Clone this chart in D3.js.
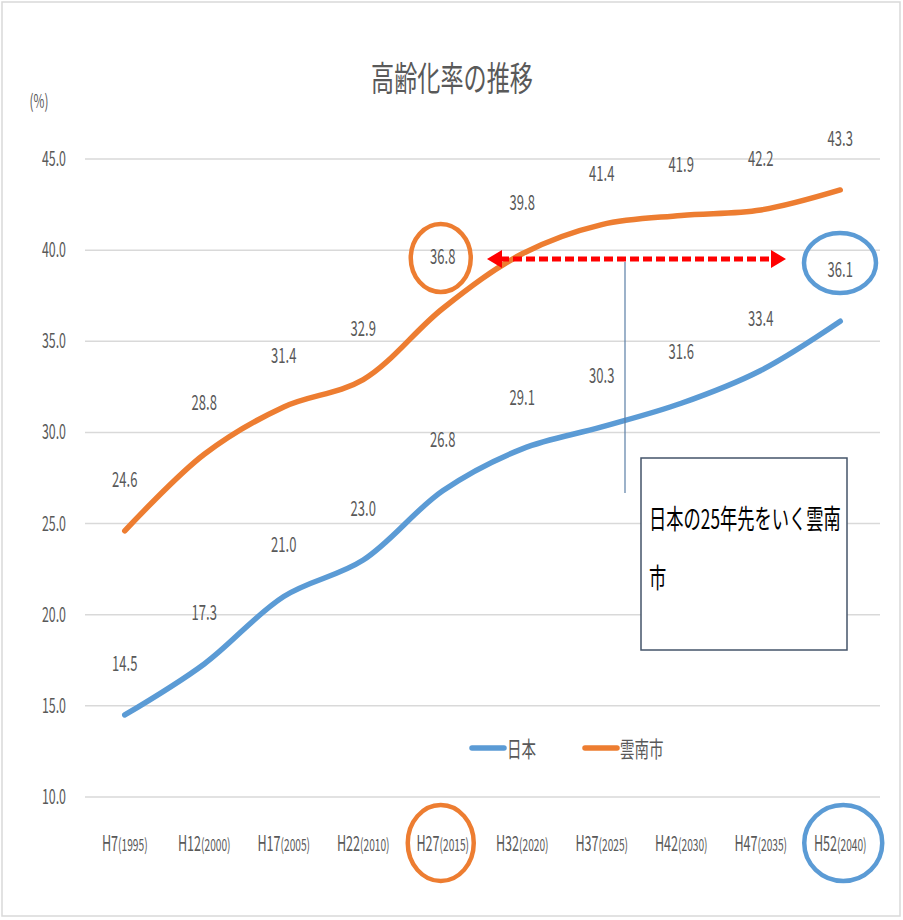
<!DOCTYPE html>
<html>
<head>
<meta charset="utf-8">
<script src="https://cdn.jsdelivr.net/npm/d3@7"></script>
<style>
  body { margin: 0; background: #fff; }
  text { font-family: "Noto Sans CJK JP", "Liberation Sans", sans-serif; fill: #595959; }
</style>
</head>
<body>
<svg id="chart" width="903" height="920"></svg>
<script>
const eras = ["H7", "H12", "H17", "H22", "H27", "H32", "H37", "H42", "H47", "H52"];
const years = ["1995", "2000", "2005", "2010", "2015", "2020", "2025", "2030", "2035", "2040"];
const japan = [14.5, 17.3, 21.0, 23.0, 26.8, 29.1, 30.3, 31.6, 33.4, 36.1];
const unnan = [24.6, 28.8, 31.4, 32.9, 36.8, 39.8, 41.4, 41.9, 42.2, 43.3];
const yTicks = [10, 15, 20, 25, 30, 35, 40, 45];

const series = [
  { name: "日本", values: japan, color: "#5B9BD5" },
  { name: "雲南市", values: unnan, color: "#ED7D31" }
];

const svg = d3.select("#chart");

const x = d3.scaleBand().domain(eras).range([85, 880]);
const y = d3.scaleLinear().domain([10, 45]).range([797, 159]);
const cx = (i) => x(eras[i]) + x.bandwidth() / 2;

// the reference text is squeezed sideways, so every label gets a scaleX
function label(g, px, py, str, size, sx, anchor = "middle", fill = "#595959") {
  return g.append("text")
    .attr("transform", `translate(${px},${py}) scale(${sx},1)`)
    .attr("text-anchor", anchor)
    .attr("font-size", size)
    .style("fill", fill)
    .text(str);
}

svg.append("rect")
  .attr("x", 2).attr("y", 2).attr("width", 898).attr("height", 914)
  .attr("fill", "none").attr("stroke", "#d9d9d9").attr("stroke-width", 1.5);

// grid
svg.append("g").selectAll("line").data(yTicks).enter().append("line")
  .attr("x1", 85).attr("x2", 880)
  .attr("y1", (d) => y(d)).attr("y2", (d) => y(d))
  .attr("stroke", "#d9d9d9").attr("stroke-width", 1.5);

const axisG = svg.append("g");
yTicks.forEach((t) => label(axisG, 66, y(t) + 7, t.toFixed(1), 20, 0.62, "end"));
label(axisG, 39, 108, "(%)", 19, 0.62);

// category labels
eras.forEach((e, i) => {
  const t = axisG.append("text")
    .attr("transform", `translate(${cx(i)},${851}) scale(0.6,1)`)
    .attr("text-anchor", "middle")
    .attr("font-size", 21);
  t.append("tspan").text(e);
  t.append("tspan").attr("font-size", 17).text(`(${years[i]})`);
});

label(svg, 452, 91, "高齢化率の推移", 34, 0.68);

// lines
const line = d3.line()
  .x((d, i) => cx(i))
  .y((d) => y(d))
  .curve(d3.curveCatmullRom.alpha(0.5));

series.forEach((s) => {
  svg.append("path")
    .datum(s.values)
    .attr("d", line)
    .attr("fill", "none")
    .attr("stroke", s.color)
    .attr("stroke-width", 5.5)
    .attr("stroke-linecap", "round");
});

// data labels
const lblG = svg.append("g");
series.forEach((s) => {
  s.values.forEach((v, i) => {
    label(lblG, cx(i), y(v) - 44, v.toFixed(1), 21, 0.62);
  });
});

// legend
const leg = svg.append("g");
series.forEach((s, i) => {
  const lx = 472 + i * 113;
  leg.append("line")
    .attr("x1", lx).attr("x2", lx + 32).attr("y1", 748).attr("y2", 748)
    .attr("stroke", s.color).attr("stroke-width", 5.5).attr("stroke-linecap", "round");
  label(leg, lx + 35, 757, s.name, 22, 0.66, "start");
});

// annotations
const ann = svg.append("g");
const ell = (px, py, rx, ry, color) => ann.append("ellipse")
  .attr("cx", px).attr("cy", py).attr("rx", rx).attr("ry", ry)
  .attr("fill", "none").attr("stroke", color).attr("stroke-width", 4.5);

ell(cx(4) - 2, 258, 30, 34, "#ED7D31");
ell(840, 263, 36, 30, "#5B9BD5");
ell(cx(4) - 2, 843, 33, 38, "#ED7D31");
ell(cx(9) + 3, 843, 39, 38, "#5B9BD5");

// vertical connector
ann.append("line")
  .attr("x1", 625).attr("x2", 625).attr("y1", 262).attr("y2", 493)
  .attr("stroke", "#5b7fa6").attr("stroke-width", 1.2);

// red dashed double arrow
ann.append("line")
  .attr("x1", 500).attr("x2", 772).attr("y1", 259).attr("y2", 259)
  .attr("stroke", "#ff0000").attr("stroke-width", 5)
  .attr("stroke-dasharray", "9,4");
ann.append("path")
  .attr("d", "M487,259 L502,250 L502,268 Z M786,259 L771,250 L771,268 Z")
  .attr("fill", "#ff0000");

// box
ann.append("rect")
  .attr("x", 641).attr("y", 458).attr("width", 206).attr("height", 192)
  .attr("fill", "#fff").attr("stroke", "#44546a").attr("stroke-width", 1.5);
label(ann, 649, 529, "日本の25年先をいく雲南", 27, 0.64, "start", "#000");
label(ann, 649, 588, "市", 27, 0.64, "start", "#000");
</script>
</body>
</html>
